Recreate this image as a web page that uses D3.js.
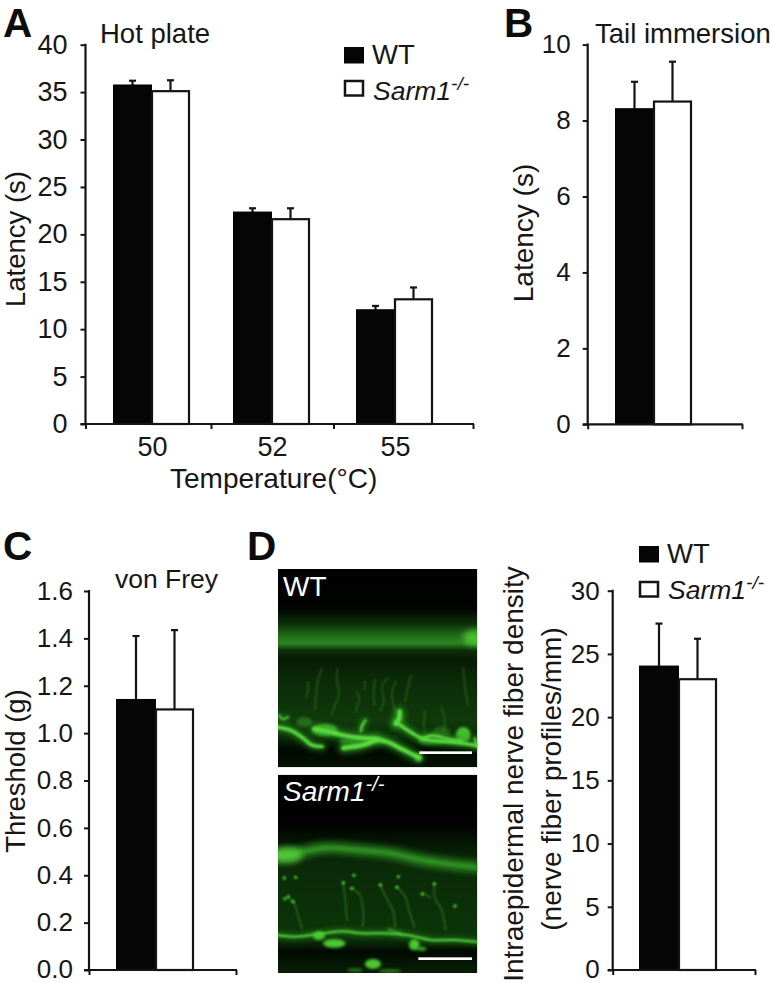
<!DOCTYPE html>
<html><head><meta charset="utf-8">
<script src="https://cdn.jsdelivr.net/npm/d3@7"></script>
<style>
html,body{margin:0;padding:0;background:#fff}
svg{display:block}
text{font-family:"Liberation Sans",Arial,sans-serif;fill:#161616}
</style></head><body>
<svg id="fig" width="773" height="983"></svg>
<script>
// ---- data ----
const temperatures = ["50","52","55"];
const hotWT = [35.7,22.3,12.0];
const hotKO = [35.1,21.6,13.15];
const hotWTtop = [36.2,22.75,12.45];
const hotKOtop = [36.25,22.75,14.4];
const hotTicks = [0,5,10,15,20,25,30,35,40];

const tailWT = [8.3];
const tailKO = [8.5];
const tailWTtop = [9.02];
const tailKOtop = [9.55];
const tailTicks = [0,2,4,6,8,10];

const freyWT = [1.14];
const freyKO = [1.10];
const freyWTtop = [1.41];
const freyKOtop = [1.435];
const freyTicks = [0,0.2,0.4,0.6,0.8,1.0,1.2,1.4,1.6];

const ienfWT = [24];
const ienfKO = [23];
const ienfWTtop = [27.4];
const ienfKOtop = [26.2];
const ienfTicks = [0,5,10,15,20,25,30];

// ---- micrograph tracings (in 3x crop units) ----
const wtThick = [
 {w:10,p:[[5,486],[50,497],[85,520],[110,540],[142,545]]},
 {w:13,p:[[118,492],[160,500],[200,510],[250,518],[300,522],[340,532],[380,552],[432,578]]},
 {w:14,p:[[205,549],[260,541],[305,524]]},
 {w:10,p:[[364,472],[400,497],[440,520],[480,527],[540,532],[610,542]]},
 {w:8,p:[[440,522],[470,512],[520,522],[560,528]]},
 {w:14,p:[[374,440],[372,462],[362,476]]},
 {w:7,p:[[272,466],[262,480],[258,498]]},
 {w:5,p:[[12,450],[22,462],[40,456]]},
 {w:7,p:[[600,520],[606,545]]}
];
const wtBlobs = [[565,510,22,24,.9],[150,495,38,18,.85],[88,472,24,15,.35],[500,500,26,16,.28],[430,578,12,12,.85],[235,530,40,12,.5],[470,528,40,12,.45]];
const wtFibers = [
 [[98,352],[100,375],[92,400]],[[140,310],[128,350],[124,385],[120,430]],[[187,312],[186,350],[192,385],[180,420],[170,450]],
 [[245,380],[252,400],[242,440]],[[300,345],[296,380],[298,420]],[[338,340],[322,360],[326,410],[315,440]],
 [[362,350],[350,390],[358,430],[362,465]],[[408,332],[398,370],[390,410]],[[450,440],[446,480],[450,505]],
 [[500,430],[510,470],[505,500]],[[565,310],[570,370],[580,420]],[[270,350],[268,375]]
];
const koThick = [
 {w:6,p:[[5,495],[60,500],[130,492],[200,484],[260,490],[330,490],[400,496],[470,510],[540,510],[610,516]]},
 {w:3,p:[[340,478],[380,492]]}
];
const koBlobs = [[178,520,34,13,.95],[132,497,18,13,.9],[418,524,16,17,.95],[440,536,14,6,.8],[294,582,24,15,.95],[240,600,24,6,.45],[345,603,34,5,.55]];
const koFibers = [
 [[40,385],[55,395],[70,440],[80,475]],[[205,340],[212,400],[216,450]],[[232,355],[255,375],[265,440],[262,470]],
 [[316,345],[335,385],[355,425],[360,470]],[[365,350],[390,380],[405,430],[420,475]],[[478,340],[480,385],[500,420],[512,480]],
 [[445,370],[470,385]]
];
const koDots = [[28,324],[62,322],[237,316],[370,320],[316,345],[40,380],[30,386],[54,395],[205,338],[230,355],[366,352],[478,342],[442,372],[540,408]];
const koBand = [[0,258],[60,250],[150,234],[250,240],[350,250],[430,268],[520,282],[615,292]];

// ---- chart drawing ----
const svg = d3.select("#fig");
const ink = "#141414";
const defs = svg.append("defs");
const fontFam = '"Liberation Sans",Arial,sans-serif';

function chart(o){
  const g = svg.append("g");
  const y = d3.scaleLinear().domain(o.domain).range([o.y0,o.y1]);
  const yAxis = d3.axisLeft(y).tickValues(o.ticks).tickSize(o.tick).tickPadding(o.pad).tickFormat(o.fmt||d3.format("d"));
  const x = d3.scaleOrdinal().domain(o.cats).range(o.centers);
  const marks = g.append("g");
  const groups = o.cats.map((c,i)=>({c,i}));
  [[o.wtTop,-o.wWT/2],[o.koTop,o.wKO/2]].forEach(([tops,off],s)=>{
    const vals = s===0?o.wt:o.ko;
    const eg = marks.selectAll(null).data(groups).enter().append("g").attr("stroke",ink).attr("stroke-width",2.2);
    eg.append("line").attr("x1",d=>x(d.c)+off).attr("x2",d=>x(d.c)+off).attr("y1",d=>y(vals[d.i])).attr("y2",d=>y(tops[d.i]));
    eg.append("line").attr("x1",d=>x(d.c)+off-3.5).attr("x2",d=>x(d.c)+off+3.5).attr("y1",d=>y(tops[d.i])).attr("y2",d=>y(tops[d.i]));
  });
  marks.selectAll(null).data(groups).enter().append("rect")
    .attr("x",d=>x(d.c)-o.wWT).attr("width",o.wWT)
    .attr("y",d=>y(o.wt[d.i])-1).attr("height",d=>o.y0-y(o.wt[d.i])+1).attr("fill","#050505");
  marks.selectAll(null).data(groups).enter().append("rect")
    .attr("x",d=>x(d.c)).attr("width",o.wKO)
    .attr("y",d=>y(o.ko[d.i])).attr("height",d=>o.y0-y(o.ko[d.i]))
    .attr("fill","#fff").attr("stroke",ink).attr("stroke-width",2.2);

  const ya = g.append("g").attr("transform",`translate(${o.x0},0)`).call(yAxis);
  ya.select(".domain").attr("stroke",ink).attr("stroke-width",2.2).attr("d",`M0,${o.y1-1}V${o.y0+1}`);
  ya.selectAll(".tick line").attr("stroke",ink).attr("stroke-width",2);
  ya.selectAll(".tick text").attr("font-size",o.fs||26).attr("font-family",fontFam).attr("fill",ink);
  if(o.lift) ya.selectAll(".tick text").filter(d=>d===0).attr("transform",`translate(0,${-o.lift})`);

  const bx = d3.scaleOrdinal().domain(o.bounds.map(String)).range(o.bounds);
  const xb = g.append("g").attr("transform",`translate(0,${o.y0})`)
    .call(d3.axisBottom(bx).tickSize(5).tickFormat("").tickSizeOuter(0));
  xb.select(".domain").attr("stroke",ink).attr("stroke-width",2.2)
    .attr("d",`M${o.bounds[0]-5},0H${o.bounds[o.bounds.length-1]+1}`);
  xb.selectAll(".tick line").attr("stroke",ink).attr("stroke-width",2);
  if(o.showCats){
    const xl = g.append("g").attr("transform",`translate(0,${o.y0})`)
      .call(d3.axisBottom(x).tickSize(0).tickPadding(13));
    xl.select(".domain").remove();
    xl.selectAll(".tick text").attr("font-size",27).attr("font-family",fontFam).attr("fill",ink);
  }
}

chart({domain:[0,40],y0:424,y1:44.7,x0:85.5,ticks:hotTicks,tick:5,pad:13,fs:27,cats:temperatures,
  centers:[152,272,395],bounds:[85.5,211,333.5,473],wt:hotWT,ko:hotKO,wtTop:hotWTtop,koTop:hotKOtop,wWT:39,wKO:37,showCats:true});
chart({domain:[0,10],y0:424.3,y1:44.6,x0:587.7,ticks:tailTicks,tick:5,pad:12,cats:["tail"],
  centers:[654],bounds:[587.7,742],wt:tailWT,ko:tailKO,wtTop:tailWTtop,koTop:tailKOtop,wWT:39,wKO:37});
chart({domain:[0,1.6],y0:970,y1:591,x0:89,ticks:freyTicks,tick:5,pad:11,lift:1.2,fmt:d3.format(".1f"),cats:["frey"],
  centers:[156],bounds:[89,236],wt:freyWT,ko:freyKO,wtTop:freyWTtop,koTop:freyKOtop,wWT:40,wKO:37});
chart({domain:[0,30],y0:970,y1:590.7,x0:612.7,ticks:ienfTicks,tick:5,pad:8,lift:1.2,cats:["ienf"],
  centers:[679],bounds:[612.7,755],wt:ienfWT,ko:ienfKO,wtTop:ienfWTtop,koTop:ienfKOtop,wWT:40,wKO:37});

// ---- text ----
function label(t,x,y,fs,extra){
  const s = svg.append("text").attr("x",x).attr("y",y).attr("font-size",fs).text(t);
  if(extra) extra(s);
  return s;
}
function vlabel(t,x,cy,fs){
  svg.append("text").attr("transform",`translate(${x},${cy}) rotate(-90)`).attr("text-anchor","middle").attr("font-size",fs).text(t);
}
[["A",3,37],["B",504,37],["C",3,560],["D",247,560]].forEach(([t,x,y])=>label(t,x,y,40.5,s=>s.attr("font-weight","bold").style("fill","#0c0c0c")));
label("Hot plate",100,43,27.5);
label("Tail immersion",595,43,27.5);
label("von Frey",115,588,26.5);
label("Temperature(°C)",170,488,28);
vlabel("Latency (s)",25,239,27.5);
vlabel("Latency (s)",533,233,28);
vlabel("Threshold (g)",25,771,27.5);
vlabel("Intraepidermal nerve fiber density",523,774,28);
vlabel("(nerve fiber profiles/mm)",561,779,28);

function sarm(x,y,fs,fill){
  const t = svg.append("text").attr("x",x).attr("y",y).attr("font-size",fs).attr("font-style","italic");
  if(fill) t.style("fill",fill);
  t.append("tspan").text("Sarm1");
  t.append("tspan").attr("font-size",fs*0.72).attr("dy",-fs*0.36).text("-/-");
}
function legend(x,yBlack,yWhite,w,h,tx,yT1,yT2,fs){
  svg.append("rect").attr("x",x).attr("y",yBlack).attr("width",w).attr("height",h).attr("fill","#050505");
  svg.append("rect").attr("x",x+1).attr("y",yWhite).attr("width",w-2).attr("height",h-2).attr("fill","#fff").attr("stroke",ink).attr("stroke-width",2.5);
  label("WT",tx,yT1,fs+1);
  sarm(tx+1,yT2,fs);
}
legend(344,47,81,20,16.5,372,64,100,26.5);
legend(639,546,582,20,16.5,667,563,599,26.5);

// ---- micrographs ----
function blurF(id,sd){
  defs.append("filter").attr("id",id).attr("filterUnits","userSpaceOnUse")
    .attr("x",-60).attr("y",-60).attr("width",760).attr("height",760)
    .append("feGaussianBlur").attr("stdDeviation",sd);
}
blurF("blur1",5); blurF("blur2",18); blurF("blur3",2.5); blurF("blur4",10);

function vgrad(id,stops){
  const g = defs.append("linearGradient").attr("id",id).attr("x1",0).attr("x2",0).attr("y1",0).attr("y2",1);
  stops.forEach(([o,c])=>g.append("stop").attr("offset",o).attr("stop-color",c));
}
vgrad("bgWT",[[0,"#000"],[.2,"#010401"],[.28,"#0e3309"],[.34,"#23701a"],[.375,"#2a8420"],[.41,"#0c2e08"],[.46,"#071b05"],[.55,"#0b2a08"],[.76,"#103a0b"],[.85,"#0b2a08"],[.91,"#020a02"],[1,"#041104"]]);
vgrad("bgKO",[[0,"#000"],[.25,"#010201"],[.36,"#061a05"],[.45,"#0a2a08"],[.80,"#0c3409"],[.84,"#0a2a08"],[.89,"#020a02"],[.97,"#061a05"],[1,"#061a05"]]);
const lineC = d3.line().curve(d3.curveCatmullRom);
const green = "#4fd136";
const core = "#5bdc3f";

function photo(id,px0,py0,X0,Y0,bg,draw){
  defs.append("clipPath").attr("id","clip"+id)
    .append("rect").attr("x",X0).attr("y",Y0).attr("width",598).attr("height",595);
  const outer = svg.append("g").attr("transform",`translate(${px0},${py0}) scale(${1/3})`);
  const g = outer.append("g").attr("clip-path",`url(#clip${id})`);
  g.append("rect").attr("x",X0).attr("y",Y0).attr("width",598).attr("height",595).attr("fill",`url(#${bg})`);
  draw(g);
}
function fibers(g,list,color){
  g.selectAll(null).data(list).enter().append("path").attr("d",lineC).attr("fill","none")
   .attr("stroke",color).attr("stroke-width",3.5).attr("stroke-linecap","round")
   .attr("stroke-dasharray","3 7").attr("filter","url(#blur3)");
}
function blobs(g,list){
  g.selectAll(null).data(list).enter().append("ellipse")
   .attr("cx",d=>d[0]).attr("cy",d=>d[1]).attr("rx",d=>d[2]).attr("ry",d=>d[3]).attr("opacity",d=>d[4])
   .attr("fill",green).attr("filter","url(#blur1)");
}
function thick(g,list){
  g.selectAll(null).data(list).enter().append("path").attr("d",d=>lineC(d.p)).attr("fill","none")
   .attr("stroke","#2f9c22").attr("opacity",.75).attr("stroke-width",d=>d.w*2.2).attr("stroke-linecap","round").attr("filter","url(#blur4)");
  g.selectAll(null).data(list).enter().append("path").attr("d",d=>lineC(d.p)).attr("fill","none")
   .attr("stroke",core).attr("stroke-width",d=>d.w).attr("stroke-linecap","round").attr("filter","url(#blur3)");
}
photo("W",275,565,9,12,"bgWT",g=>{
  g.append("ellipse").attr("cx",598).attr("cy",218).attr("rx",34).attr("ry",24).attr("fill","#55cf3c").attr("opacity",.8).attr("filter","url(#blur4)");
  fibers(g,wtFibers,"#3f9c2e");
  blobs(g,wtBlobs);
  thick(g,wtThick);
  g.append("rect").attr("x",433).attr("y",559).attr("width",158).attr("height",8).attr("fill","#fff");
});
photo("K",275,770,9,14,"bgKO",g=>{
  g.append("path").attr("d",lineC(koBand)).attr("fill","none").attr("stroke","#2f8f24").attr("stroke-width",34).attr("opacity",.85).attr("filter","url(#blur4)");
  g.append("path").attr("d",lineC(koBand)).attr("fill","none").attr("stroke","#3aa52c").attr("stroke-width",10).attr("opacity",.6).attr("filter","url(#blur1)");
  g.append("ellipse").attr("cx",35).attr("cy",255).attr("rx",48).attr("ry",24).attr("fill","#55cf3c").attr("opacity",.85).attr("filter","url(#blur4)");
  fibers(g,koFibers,"#4cb536");
  g.selectAll(null).data(koDots).enter().append("circle").attr("cx",d=>d[0]).attr("cy",d=>d[1]).attr("r",5).attr("fill",green).attr("filter","url(#blur3)");
  thick(g,koThick);
  blobs(g,koBlobs);
  g.append("rect").attr("x",430).attr("y",562).attr("width",161).attr("height",8).attr("fill","#fff");
});
label("WT",283,596,28,s=>s.style("fill","#fff"));
sarm(283,801,28,"#fff");
</script>
</body></html>
